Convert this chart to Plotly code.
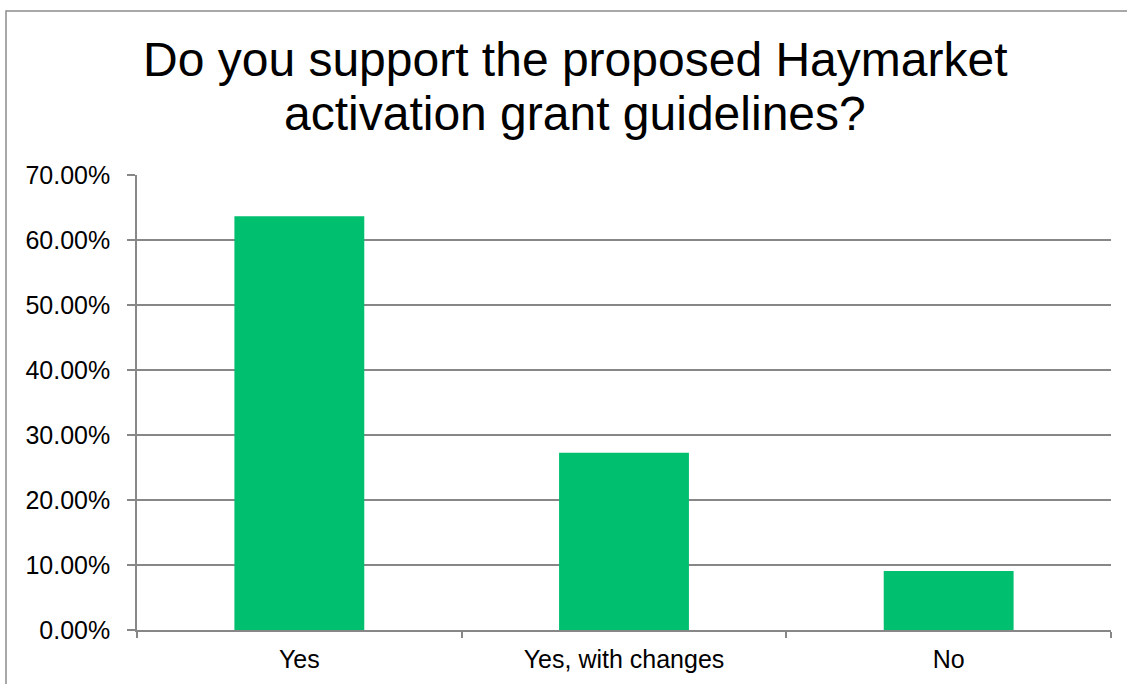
import plotly.graph_objects as go

categories = ["Yes", "Yes, with changes", "No"]
values = [0.6364, 0.2727, 0.0909]
title_lines = ["Do you support the proposed Haymarket", "activation grant guidelines?"]

W, H = 1127, 684
L, R, T, B = 137, 1111, 175, 630
pw, ph = R - L, B - T

def px(x):
    return (x - L) / pw

def py(y):
    return (B - y) / ph

grid = "#878787"
fig = go.Figure(go.Bar(x=categories, y=values, marker=dict(color="#00BF6F", line=dict(width=0)),
                       width=0.4))

fig.update_layout(
    width=W, height=H,
    margin=dict(l=L, r=W - R, t=T, b=H - B, autoexpand=False),
    paper_bgcolor="white", plot_bgcolor="white",
    font=dict(family="Liberation Sans, Arial, sans-serif", color="black"),
    showlegend=False,
    bargap=0.6,
)
fig.update_yaxes(range=[0, 0.7], dtick=0.1, tickformat=".2%", automargin=False,
                 showgrid=True, gridcolor=grid, gridwidth=1.5,
                 showline=True, linecolor=grid, linewidth=1.5,
                 ticks="outside", ticklen=8, tickcolor=grid, tickwidth=1.5,
                 tickfont=dict(size=25), ticklabelstandoff=12, zeroline=False)
fig.update_xaxes(showline=True, linecolor=grid, linewidth=1.5, automargin=False,
                 ticks="outside", ticklen=6, tickcolor=grid, tickwidth=1.5,
                 tickson="boundaries", showgrid=False,
                 tickfont=dict(size=25), ticklabelstandoff=6)

for line, yy in zip(title_lines, [59, 113]):
    fig.add_annotation(text=line, xref="paper", yref="paper", x=px(575), y=py(yy),
                       xanchor="center", yanchor="middle", showarrow=False,
                       font=dict(size=48, color="black"))

fig.add_shape(type="rect", xref="paper", yref="paper",
              x0=px(6), x1=px(1140), y0=py(700), y1=py(11),
              line=dict(color="#8C8C8C", width=1.5), fillcolor="rgba(0,0,0,0)", layer="below")

fig.write_html("out.html", config={"displayModeBar": False},
               post_script="document.body.style.margin='0';document.body.style.padding='0';")
